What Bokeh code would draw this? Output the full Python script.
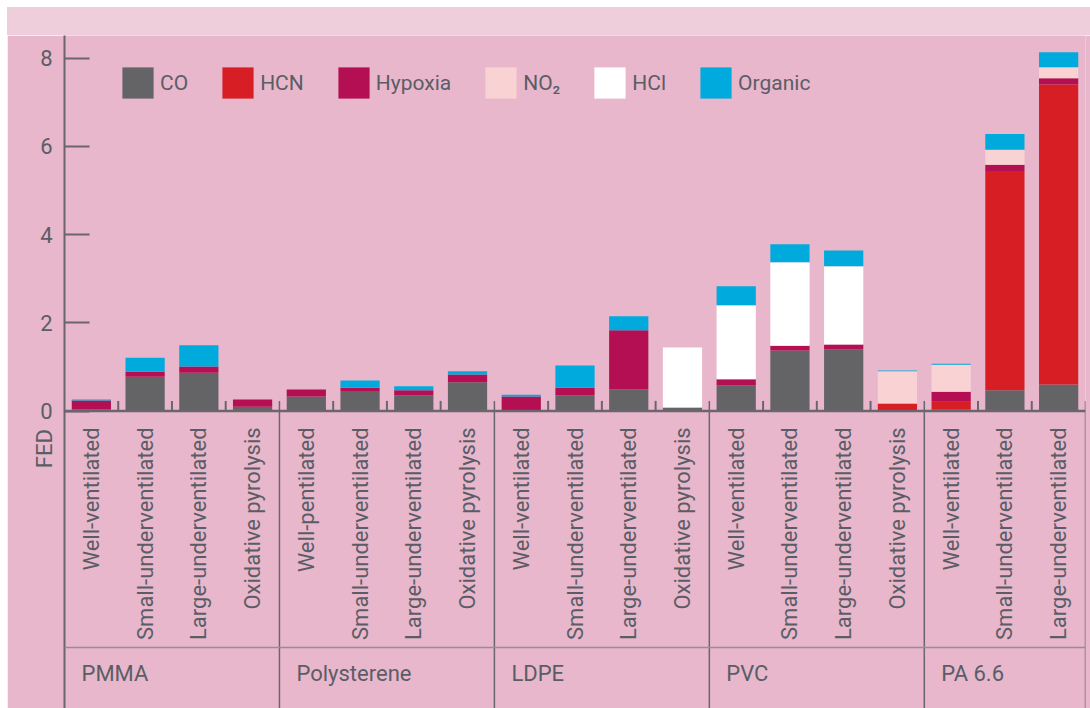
import math
from bokeh.plotting import figure
from bokeh.models import (ColumnDataSource, FactorRange, Range1d, FixedTicker,
                          Span, Legend, LegendItem, Div, LinearAxis)
from bokeh.layouts import column
from bokeh.embed import file_html
from bokeh.resources import INLINE
from bokeh.core.properties import value

# ---------------- data ----------------
groups = ["PMMA", "Polysterene", "LDPE", "PVC", "PA 6.6"]
conditions = [
    ["Well-ventilated", "Small-underventilated", "Large-underventilated", "Oxidative pyrolysis"],
    ["Well-pentilated", "Small-underventilated", "Large-underventilated", "Oxidative pyrolysis"],
    ["Well-ventilated", "Small-underventilated", "Large-underventilated", "Oxidative pyrolysis"],
    ["Well-ventilated", "Small-underventilated", "Large-underventilated", "Oxidative pyrolysis"],
    ["Well-ventilated", "Small-underventilated", "Large-underventilated"],
]
series_labels = ["CO", "HCN", "Hypoxia", "NO\u2082", "HCl", "Organic"]
series_keys = ["co", "hcn", "hypoxia", "no2", "hcl", "organic"]

co      = [0.04, 0.78, 0.87, 0.10,  0.33, 0.44, 0.35, 0.65,  0.01, 0.35, 0.49, 0.08,  0.58, 1.37, 1.40, 0.00,  0.03, 0.47, 0.60]
hcn     = [0.00, 0.00, 0.00, 0.00,  0.00, 0.00, 0.00, 0.00,  0.00, 0.00, 0.00, 0.00,  0.00, 0.00, 0.00, 0.17,  0.18, 4.97, 6.80]
hypoxia = [0.20, 0.11, 0.14, 0.16,  0.16, 0.09, 0.12, 0.18,  0.32, 0.18, 1.34, 0.00,  0.14, 0.11, 0.11, 0.00,  0.23, 0.14, 0.14]
no2     = [0.00, 0.00, 0.00, 0.00,  0.00, 0.00, 0.00, 0.00,  0.00, 0.00, 0.00, 0.00,  0.00, 0.00, 0.00, 0.73,  0.61, 0.34, 0.25]
hcl     = [0.00, 0.00, 0.00, 0.00,  0.00, 0.00, 0.00, 0.00,  0.00, 0.00, 0.00, 1.36,  1.68, 1.89, 1.77, 0.00,  0.00, 0.00, 0.00]
organic = [0.02, 0.32, 0.48, 0.00,  0.00, 0.16, 0.09, 0.07,  0.04, 0.50, 0.32, 0.00,  0.43, 0.41, 0.36, 0.02,  0.02, 0.36, 0.34]

y_ticks = [0, 2, 4, 6, 8]
y_label = "FED"

# ---------------- styles ----------------
BG = "#E8B7CB"
BAND = "#EFCEDB"
TEXT = "#5B5D66"
AXIS = "#6B6570"
SEP = "#9C8A96"
COLORS = ["#646466", "#D81E25", "#B30F52", "#F9D3D3", "#FFFFFF", "#00AADD"]
FONT = "Roboto"
FS = "22px"
Y0, Y1 = -6.74, 8.51
Y_LABEL_POS = -0.85

factors = [(g, c) for g, cs in zip(groups, conditions) for c in cs]
data = dict(x=factors, co=co, hcn=hcn, hypoxia=hypoxia, no2=no2, hcl=hcl, organic=organic)
source = ColumnDataSource(data)

x_range = FactorRange(*factors, factor_padding=0, group_padding=0, range_padding=0)

p = figure(x_range=x_range, y_range=Range1d(Y0, Y1),
           frame_width=1021, frame_height=673,
           min_border_left=57, min_border_right=5, min_border_top=0, min_border_bottom=0,
           x_axis_location=None, toolbar_location=None, output_backend="svg",
           background_fill_color=BG, border_fill_color=BG, outline_line_color=None)
p.grid.visible = False

renderers = p.vbar_stack(series_keys, x="x", width=0.73, source=source,
                         fill_color=COLORS, line_color=None)

# y axis
yax = p.yaxis[0]
yax.ticker = FixedTicker(ticks=y_ticks)
yax.major_tick_in = 25
yax.major_tick_out = 0
yax.minor_tick_in = 0
yax.minor_tick_out = 0
yax.axis_line_color = AXIS
yax.axis_line_width = 2
yax.major_tick_line_color = AXIS
yax.major_tick_line_width = 2
yax.major_label_text_font = FONT
yax.major_label_text_font_size = FS
yax.major_label_text_color = TEXT
yax.major_label_standoff = 12

# second left axis carrying the axis title as its only (rotated) label, below zero
title_axis = LinearAxis(ticker=FixedTicker(ticks=[Y_LABEL_POS]),
                        major_label_overrides={Y_LABEL_POS: y_label},
                        major_label_orientation="vertical", major_label_standoff=-26,
                        axis_line_color=None, major_tick_line_color=None,
                        minor_tick_line_color=None,
                        major_label_text_font=FONT, major_label_text_font_size=FS,
                        major_label_text_color=TEXT)
p.add_layout(title_axis, "left")

# horizontal base line at zero
p.add_layout(Span(location=0, dimension="width", line_color=AXIS, line_width=2.5))
# separator between condition labels and group labels
p.add_layout(Span(location=-5.36, dimension="width", line_color=SEP, line_width=1.5))

# small ticks between bars within groups
sub_ticks = [(g, c, -0.5) for g, cs in zip(groups, conditions) for c in cs[1:]]
p.segment(x0=sub_ticks, y0=[0] * len(sub_ticks), x1=sub_ticks, y1=[0.23] * len(sub_ticks),
          line_color=AXIS, line_width=2)

# group boundaries
bounds = [(g, cs[0], -0.5) for g, cs in zip(groups, conditions)] + [(groups[-1], conditions[-1][-1], 0.5)]
p.segment(x0=bounds[1:], y0=[0.23] * (len(bounds) - 1), x1=bounds[1:], y1=[Y0] * (len(bounds) - 1),
          line_color=AXIS, line_width=1.5)

# condition labels
p.text(x=factors, y=[-0.37] * len(factors), text=[c for _, c in factors],
       angle=math.pi / 2, text_align="right", text_baseline="middle",
       text_font=value(FONT), text_font_size=FS, text_color=TEXT)

# group labels
gstarts = [(g, cs[0], -0.5) for g, cs in zip(groups, conditions)]
p.text(x=gstarts, y=[-5.95] * len(groups), text=groups, x_offset=17,
       text_align="left", text_baseline="middle",
       text_font=value(FONT), text_font_size=FS, text_color=TEXT)

legend = Legend(items=[LegendItem(label=l, renderers=[r]) for l, r in zip(series_labels, renderers)],
                orientation="horizontal", location=(54, 606),
                glyph_width=39, glyph_height=39, label_height=39, label_standoff=3,
                spacing=30, padding=0, margin=0,
                background_fill_alpha=0, border_line_color=None,
                label_text_font=FONT, label_text_font_size="21px", label_text_color=TEXT)
p.add_layout(legend)

band = Div(text="", width=1083, height=28, margin=0,
           styles={"background-color": BAND})

layout = column(band, p, spacing=0, margin=(7, 0, 0, 7))
open("out.html", "w").write(file_html(layout, INLINE))
